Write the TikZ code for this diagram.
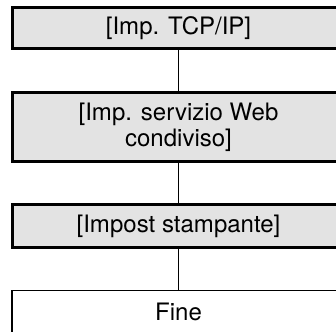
\documentclass[tikz,border=0pt]{standalone}
\usepackage{fontspec}
\setmainfont{TeX Gyre Heros}
\definecolor{boxgray}{HTML}{E3E3E3}
\tikzset{
  x=1pt, y=1pt,
  graybox/.style={draw=black, line width=3pt, fill=boxgray, minimum width=332pt,
    align=center, inner sep=0pt, font=\fontsize{24}{26}\selectfont},
  endbox/.style={draw=black, line width=1.3pt, fill=white, minimum width=333pt,
    align=center, inner sep=0pt, font=\fontsize{24}{26}\selectfont},
  link/.style={draw=black, line width=1pt}
}
\begin{document}
\begin{tikzpicture}
\path[use as bounding box, clip] (0,0) rectangle (336,-331);
\node[graybox, minimum height=41pt] (b1) at (178.5,-28) {[Imp. TCP/IP]};
\node[graybox, minimum height=69pt] (b2) at (178.5,-127) {[Imp. servizio Web\\condiviso]};
\node[graybox, minimum height=43pt] (b3) at (178.5,-226) {[Impost stampante]};
\node[endbox, minimum height=42pt] (b4) at (178.5,-311.5) {Fine};
\draw[link] (b1.south) -- (b2.north);
\draw[link] (b2.south) -- (b3.north);
\draw[link] (b3.south) -- (b4.north);
\end{tikzpicture}
\end{document}
